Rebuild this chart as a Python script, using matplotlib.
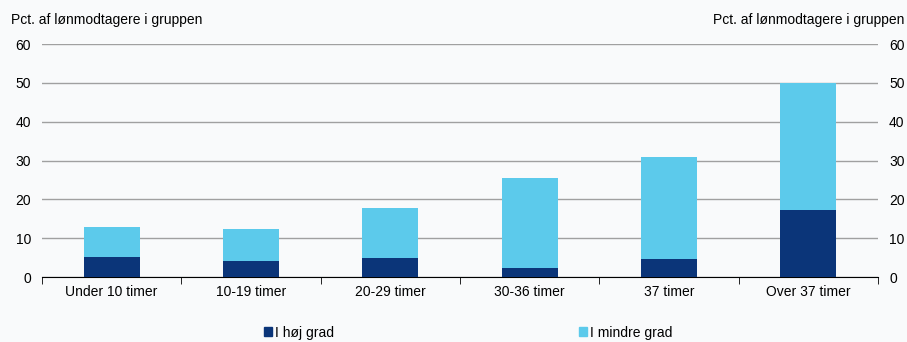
from matplotlib import pyplot as plt
from matplotlib.patches import Patch
import numpy as np

plt.rcParams['font.family'] = ['Liberation Sans', 'DejaVu Sans']

categories = ['Under 10 timer', '10-19 timer', '20-29 timer', '30-36 timer', '37 timer', 'Over 37 timer']
hoj_grad = [5.2, 4.1, 4.9, 2.3, 4.6, 17.3]
mindre_grad = [7.7, 8.3, 12.9, 23.2, 26.3, 32.7]

dark = '#0b3579'
light = '#5ccaeb'
bg = '#f9fafb'

fig = plt.figure(figsize=(9.07, 3.42), dpi=100, facecolor=bg)
ax = fig.add_axes([0.0463, 0.19, 0.9217, 0.681], facecolor=bg)

x = np.arange(len(categories))
ax.bar(x, hoj_grad, width=0.4, color=dark, zorder=3)
ax.bar(x, mindre_grad, width=0.4, bottom=hoj_grad, color=light, zorder=3)

ax.set_xlim(-0.5, len(categories) - 0.5)
ax.set_ylim(0, 60)
ax.set_yticks(range(0, 61, 10))
ax.yaxis.grid(True, color='#a0a0a0', linewidth=1)
ax.set_axisbelow(True)

for s in ['top', 'left', 'right']:
    ax.spines[s].set_visible(False)
ax.spines['bottom'].set_color('black')

ax.set_xticks(x)
ax.set_xticklabels(categories, fontsize=10)
ax.tick_params(axis='x', length=0, pad=6)
ax.set_xticks(np.arange(-0.5, len(categories)), minor=True)
ax.tick_params(axis='x', which='minor', length=5, direction='out', color='black')
ax.tick_params(axis='y', length=0, labelsize=10, pad=8, labelright=True)

fig.text(0.012, 0.93, 'Pct. af lønmodtagere i gruppen', fontsize=10)
fig.text(0.997, 0.93, 'Pct. af lønmodtagere i gruppen', fontsize=10, ha='right')

handles = [Patch(color=dark, label='I høj grad'), Patch(color=light, label='I mindre grad')]
fig.legend(handles=handles, loc='lower center', ncol=2, frameon=False, fontsize=10,
           bbox_to_anchor=(0.516, -0.03), handlelength=0.6, handleheight=0.6,
           handletextpad=0.2, columnspacing=17.6)

fig.savefig('out.png', dpi=100, facecolor=bg)
